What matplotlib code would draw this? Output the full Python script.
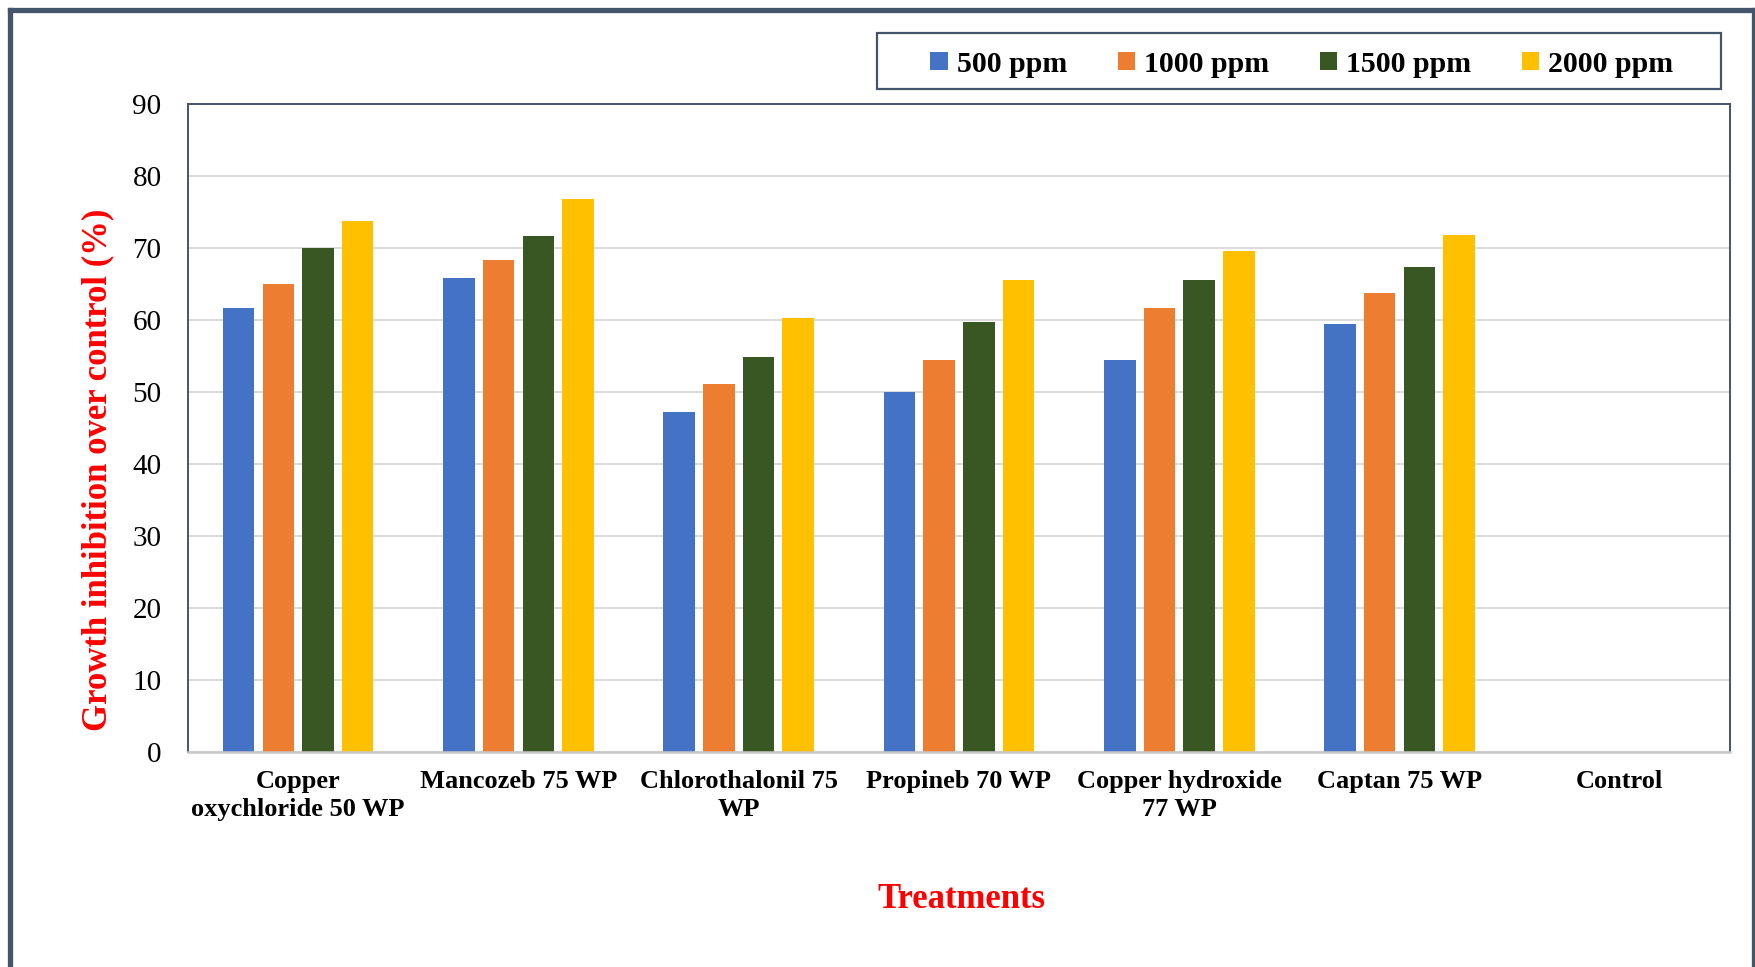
import matplotlib
matplotlib.use("Agg")
import matplotlib.pyplot as plt
from matplotlib.patches import Patch, Rectangle
from matplotlib.lines import Line2D

categories = ["Copper\noxychloride 50 WP", "Mancozeb 75 WP", "Chlorothalonil 75\nWP",
              "Propineb 70 WP", "Copper hydroxide\n77 WP", "Captan 75 WP", "Control"]
series_names = ["500 ppm", "1000 ppm", "1500 ppm", "2000 ppm"]
v500 = [61.6, 65.9, 47.2, 50.0, 54.4, 59.4, 0]
v1000 = [65.0, 68.3, 51.1, 54.4, 61.6, 63.7, 0]
v1500 = [70.0, 71.6, 54.8, 59.7, 65.5, 67.4, 0]
v2000 = [73.8, 76.8, 60.3, 65.6, 69.6, 71.8, 0]
series_values = [v500, v1000, v1500, v2000]
colors = ["#4472C4", "#ED7D31", "#385723", "#FFC000"]
yticks = [0, 10, 20, 30, 40, 50, 60, 70, 80, 90]

W, H = 1756, 967
fig = plt.figure(figsize=(W / 100, H / 100), dpi=100)
serif = ["Liberation Serif", "DejaVu Serif"]

ax = fig.add_axes([188 / W, 1 - 752 / H, (1730 - 188) / W, (752 - 104) / H])
pitch = 0.18
bw = 0.143
x = list(range(len(categories)))
for k, (vals, c) in enumerate(zip(series_values, colors)):
    xs = [i + (k - 1.5) * pitch for i in x]
    ax.bar(xs, vals, width=bw, color=c, edgecolor="none", zorder=3)

ax.set_xlim(-0.5, len(categories) - 0.5)
ax.set_ylim(0, 90)
ax.set_yticks(yticks)
ax.set_yticklabels([str(t) for t in yticks], family=serif, fontsize=21)
ax.set_xticks(x)
ax.set_xticklabels(categories, family=serif, fontsize=19, fontweight="bold", linespacing=1.3)
ax.tick_params(axis="both", length=0)
ax.tick_params(axis="y", pad=19)
ax.tick_params(axis="x", pad=13)
ax.yaxis.grid(True, color="#D9D9D9", linewidth=1.3, zorder=0)
ax.set_axisbelow(True)
for s in ["left", "top", "right"]:
    ax.spines[s].set_color("#44546A")
    ax.spines[s].set_linewidth(1.4)
ax.spines["bottom"].set_color("#C8C8C8")
ax.spines["bottom"].set_linewidth(1.8)
ax.spines["bottom"].set_zorder(4)

fig.text(98 / W, 1 - 470 / H, "Growth inhibition over control (%)", rotation=90,
         ha="center", va="center", color="red", family=serif, fontsize=25, fontweight="bold")
fig.text(961 / W, 1 - 899 / H, "Treatments", ha="center", va="center", color="red",
         family=serif, fontsize=25, fontweight="bold")

# legend box
fig.patches.append(Rectangle((877 / W, 1 - 89 / H), (1721 - 877) / W, (89 - 33) / H,
                             transform=fig.transFigure, facecolor="white",
                             edgecolor="#44546A", linewidth=1.6, zorder=5))
handles = [Patch(facecolor=c, edgecolor="none") for c in colors]
leg = fig.legend(handles, series_names, loc="center", bbox_to_anchor=(1302 / W, 1 - 64 / H),
                 ncol=4, frameon=False, handlelength=0.58, handleheight=0.58,
                 handletextpad=0.3, columnspacing=1.7,
                 prop={"family": serif, "size": 21.5, "weight": "bold"})
leg.set_zorder(6)

# outer frame (left, top, right)
fc = "#44546A"
fig.lines.append(Line2D([10.5 / W, 10.5 / W], [0, 1 - 9.5 / H], transform=fig.transFigure,
                        color=fc, linewidth=3.8, solid_capstyle="projecting"))
fig.lines.append(Line2D([10.5 / W, 1754 / W], [1 - 9.5 / H, 1 - 9.5 / H], transform=fig.transFigure,
                        color=fc, linewidth=3.8, solid_capstyle="projecting"))
fig.lines.append(Line2D([1754 / W, 1754 / W], [0, 1 - 9.5 / H], transform=fig.transFigure,
                        color=fc, linewidth=3.8, solid_capstyle="projecting"))

fig.savefig("out.png", dpi=100)
